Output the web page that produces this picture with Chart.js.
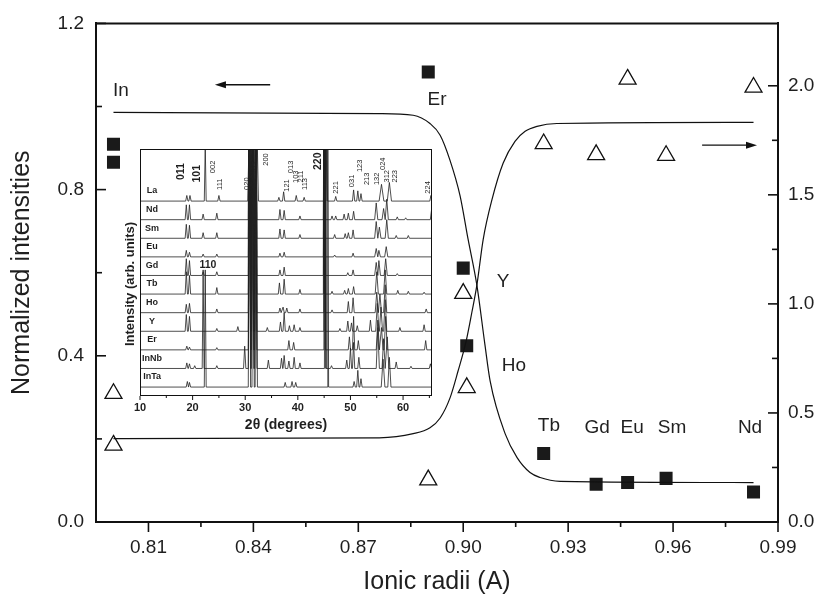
<!DOCTYPE html>
<html>
<head>
<meta charset="utf-8">
<script src="https://cdn.jsdelivr.net/npm/chart.js@4.4.1/dist/chart.umd.min.js"></script>
<style>
  body { margin: 0; background: #fff; }
  #wrap { position: relative; width: 819px; height: 597px; }
  #main { position: absolute; left: 0; top: 0; }
  #inset { position: absolute; left: 112px; top: 140px; }
</style>
</head>
<body>
<div id="wrap">
  <canvas id="main" width="819" height="597"></canvas>
  <canvas id="inset" width="328" height="300"></canvas>
</div>
<script>
// ---- main plot data ----
const ionicRadii = [0.800, 0.800, 0.890, 0.900, 0.901, 0.923, 0.938, 0.947, 0.958, 0.983];
const squareValues = [0.909, 0.866, 1.083, 0.611, 0.424, 0.165, 0.091, 0.095, 0.105, 0.072];
const triangleValues = [0.589, 0.352, 0.193, 1.048, 0.616, 1.734, 1.684, 2.030, 1.680, 1.993];

// guide curves
const fallX = [0.800, 0.876, 0.8857, 0.8905, 0.8934, 0.8962, 0.8991, 0.9014, 0.9039, 0.9062, 0.9077, 0.912, 0.9154, 0.9191, 0.922, 0.9277, 0.983];
const fallY = [0.986, 0.983, 0.979, 0.959, 0.931, 0.871, 0.785, 0.680, 0.570, 0.427, 0.339, 0.212, 0.155, 0.119, 0.107, 0.098, 0.095];
const riseX = [0.800, 0.876, 0.8857, 0.8905, 0.8934, 0.8962, 0.8985, 0.9008, 0.9025, 0.9039, 0.9057, 0.9082, 0.9114, 0.9148, 0.9177, 0.9211, 0.9268, 0.983];
const riseY = [0.382, 0.386, 0.405, 0.432, 0.477, 0.568, 0.691, 0.827, 0.964, 1.086, 1.295, 1.477, 1.645, 1.745, 1.791, 1.814, 1.827, 1.832];

const xTicks = [0.81, 0.84, 0.87, 0.90, 0.93, 0.96, 0.99];
const xMinor = [0.825, 0.855, 0.885, 0.915, 0.945, 0.975];
const leftTicks = [0, 0.4, 0.8, 1.2];
const leftMinor = [0.2, 0.6, 1.0];
const rightTicks = [0, 0.5, 1.0, 1.5, 2.0];
const rightMinor = [0.25, 0.75, 1.25, 1.75];

const ionNames = ['In', 'Er', 'Y', 'Ho', 'Tb', 'Gd', 'Eu', 'Sm', 'Nd'];
const ionLabelX = [0.8021, 0.8925, 0.9114, 0.9145, 0.9245, 0.9383, 0.9483, 0.9597, 0.982];
const ionLabelY = [1.038, 1.017, 0.578, 0.375, 0.2315, 0.227, 0.227, 0.227, 0.227];

// ---- inset XRD data: [2theta, height, half width] ----
const samples = ['InTa', 'InNb', 'Er', 'Y', 'Ho', 'Tb', 'Gd', 'Eu', 'Sm', 'Nd', 'La'];
const peaksInTa = [[19.0,.3],[19.4,.25],[22.4,6.3,.18],[30.8,13],[31.5,13],[32.1,13],[37.6,.25],[38.9,.3],[39.6,.25],[45.7,13,.15],[50.7,.3],[51.4,.9],[52.0,.45],[56.2,1.5,.35],[57.4,1.6,.3]];
const peaksInNb = [[18.9,.3],[19.4,.25],[20.4,.15],[22.0,5.3,.18],[24.6,.15],[29.9,1.2],[30.8,13],[31.4,13],[32.0,13],[34.4,.45],[36.9,.55],[37.4,.7],[38.3,.4],[39.3,.6],[40.4,.3],[45.2,13,.15],[46.4,.15],[49.3,.45],[50.0,1.1],[50.6,1.4],[51.6,.6],[55.2,2.2,.3],[56.3,1.6,.3],[57.0,1.7,.3],[58.7,.35],[61.5,.12],[65.2,.25]];
const peaksEr = [[18.9,.2],[19.4,.15],[24.6,.12],[30.8,13],[31.4,13],[32.0,13],[38.3,.5],[39.2,.4],[45.1,13,.15],[49.8,.7],[50.6,1.8],[51.5,.5],[55.2,1.6,.3],[55.9,1.2,.3],[56.7,1.8,.3],[64.3,.5]];
const peaksY = [[18.8,.9],[19.4,.8],[24.6,.15],[28.6,.25],[30.8,13],[31.4,13],[32.0,13],[34.2,.2],[36.7,.5],[37.4,1.0],[38.4,.3],[39.3,.35],[40.4,.2],[45.1,13,.15],[48.0,.15],[49.5,.55],[50.2,.45],[51.3,.3],[53.8,.6],[55.1,1.5,.3],[55.8,1.3,.3],[56.6,1.7,.3],[59.4,.2],[64.0,.35]];
const peaksHo = [[18.8,.45],[19.4,.5],[24.6,.2],[30.8,13],[31.4,13],[32.0,13],[36.6,.25],[37.2,.3],[37.9,.25],[40.4,.2],[45.1,13,.15],[46.5,.15],[49.6,.6],[50.5,.8],[55.0,1.1,.3],[55.6,1.0,.3],[56.6,1.5,.3],[64.4,.2]];
const peaksTb = [[18.8,1.2],[19.4,1.0],[24.6,.35],[30.8,13],[31.4,13],[32.0,13],[36.5,.6],[37.4,.8],[40.4,.25],[45.0,13,.15],[46.5,.15],[48.9,.2],[49.6,.3],[50.6,.4],[55.0,1.2,.3],[56.6,1.3,.3],[59.0,.2],[61.0,.15],[64.0,.1]];
const peaksGd = [[18.8,.9],[19.4,.8],[22.0,.2],[24.6,.2],[30.8,13],[31.4,13],[32.0,13],[36.6,.3],[37.4,.45],[45.0,13,.15],[49.5,.15],[50.5,.3],[54.9,.7,.3],[55.4,.8,.3],[56.7,.9,.3],[58.9,.1]];
const peaksEu = [[18.8,.35],[19.4,.25],[22.0,.15],[24.6,.15],[30.8,13],[31.4,13],[32.0,13],[36.6,.2],[37.4,.25],[45.0,13,.15],[47.0,.1],[50.5,.2],[54.9,.45,.3],[55.4,.35,.3],[56.8,.55,.3]];
const peaksSm = [[18.8,.75],[19.4,.7],[22.0,.3],[24.6,.3],[30.8,13],[31.4,13],[32.0,13],[36.6,.5],[37.4,.45],[40.4,.2],[45.0,13,.15],[47.0,.2],[49.0,.25],[49.6,.3],[50.5,.45],[54.9,.9,.3],[55.5,.6,.3],[56.9,1.0,.3],[58.7,.15],[61.0,.15]];
const peaksNd = [[18.8,.8],[19.4,.8],[22.0,.3],[24.6,.35],[30.8,13],[31.4,13],[32.0,13],[36.6,.55],[37.4,.5],[40.4,.2],[45.0,13,.15],[46.5,.2],[47.2,.2],[48.8,.3],[49.6,.35],[50.6,.45],[54.9,.9,.3],[56.3,.6,.3],[56.9,1.1,.3],[58.9,.15],[60.5,.1],[65.4,.5]];
const peaksLa = [[18.9,.3],[19.5,.3],[22.4,3,.18],[25.0,.3],[30.7,3],[31.5,3],[32.3,3],[36.4,.2],[37.3,.5],[39.7,.3],[41.2,.2],[45.5,3,.15],[47.2,.25],[50.6,.6],[51.4,.55],[52.0,.4],[55.9,.9,.45],[57.4,1.0,.4],[65.3,.3]];
const allPeaks = [peaksInTa, peaksInNb, peaksEr, peaksY, peaksHo, peaksTb, peaksGd, peaksEu, peaksSm, peaksNd, peaksLa];

const insetTicks = [10, 20, 30, 40, 50, 60];
const insetMinor = [15, 25, 35, 45, 55, 65];

// hkl labels of the La pattern: text, 2theta, bottom of text (in offset units)
const hklText = ['011', '101', '002', '111', '020', '112', '200', '121', '013', '103', '211', '113', '220', '221', '031', '123', '213', '132', '024', '312', '223', '224'];
const hklX = [17.9, 20.8, 23.9, 25.2, 30.3, 31.7, 34.0, 37.9, 38.7, 39.7, 40.6, 41.4, 43.9, 47.3, 50.3, 51.8, 53.1, 55.0, 56.2, 57.0, 58.5, 64.8];
const hklY = [11.13, 11.0, 11.5, 10.6, 10.6, 11.56, 11.9, 10.5, 11.5, 10.97, 11.0, 10.6, 11.67, 10.4, 10.75, 11.56, 10.86, 10.86, 11.67, 11.0, 11.0, 10.4];
const hklBold = ['011', '101', '220'];

const textColor = '#1f1f1f';
const mainFont = '"Liberation Sans", Arial, sans-serif';

// spikes for a pattern sitting on a given offset
const makeTrace = (peaks, offset) => {
  const pts = [{ x: 10, y: offset }];
  peaks.forEach(([pos, h, w = 0.22]) => {
    pts.push({ x: pos - w, y: offset }, { x: pos, y: offset + h }, { x: pos + w, y: offset });
  });
  pts.push({ x: 65.5, y: offset });
  return pts;
};

const toPoints = (xs, ys) => xs.map((v, i) => ({ x: v, y: ys[i] }));

// draws ticks, top border, labels and arrows on the main plot
const mainDecor = {
  id: 'mainDecor',
  afterDraw(chart) {
    const { ctx, chartArea: a, scales } = chart;
    const sx = scales.x, sy = scales.y, sr = scales.y1;
    ctx.save();
    ctx.strokeStyle = '#111';
    ctx.lineWidth = 2;
    ctx.beginPath();
    ctx.moveTo(a.left - 1, a.top);
    ctx.lineTo(a.right + 1, a.top);
    ctx.stroke();

    ctx.lineWidth = 1.6;
    const seg = (x1, y1, x2, y2) => {
      ctx.beginPath(); ctx.moveTo(x1, y1); ctx.lineTo(x2, y2); ctx.stroke();
    };
    xTicks.forEach(v => { const p = sx.getPixelForValue(v); seg(p, a.bottom, p, a.bottom + 10); });
    xMinor.forEach(v => { const p = sx.getPixelForValue(v); seg(p, a.bottom, p, a.bottom + 5); });
    leftTicks.forEach(v => { const p = sy.getPixelForValue(v); seg(a.left, p, a.left + 10, p); });
    leftMinor.forEach(v => { const p = sy.getPixelForValue(v); seg(a.left, p, a.left + 6, p); });
    rightTicks.forEach(v => { const p = sr.getPixelForValue(v); seg(a.right, p, a.right - 10, p); });
    rightMinor.forEach(v => { const p = sr.getPixelForValue(v); seg(a.right, p, a.right - 6, p); });

    // ion names
    ctx.fillStyle = textColor;
    ctx.font = '19px ' + mainFont;
    ctx.textAlign = 'center';
    ctx.textBaseline = 'middle';
    ionNames.forEach((t, i) => {
      ctx.fillText(t, sx.getPixelForValue(ionLabelX[i]), sy.getPixelForValue(ionLabelY[i]));
    });

    // arrows pointing to each axis
    const arrow = (x1, x2, yv) => {
      const p1 = sx.getPixelForValue(x1), p2 = sx.getPixelForValue(x2), py = sy.getPixelForValue(yv);
      const dir = Math.sign(p2 - p1);
      ctx.lineWidth = 1.4;
      seg(p1, py, p2 - dir * 6, py);
      ctx.beginPath();
      ctx.moveTo(p2, py);
      ctx.lineTo(p2 - dir * 11, py - 3.5);
      ctx.lineTo(p2 - dir * 11, py + 3.5);
      ctx.closePath();
      ctx.fillStyle = '#111';
      ctx.fill();
    };
    arrow(0.8448, 0.8290, 1.0525);
    arrow(0.9683, 0.9840, 0.907);
    ctx.restore();
  }
};

new Chart(document.getElementById('main'), {
  type: 'scatter',
  data: {
    datasets: [
      {
        label: 'fall', data: toPoints(fallX, fallY), yAxisID: 'y', showLine: true,
        borderColor: '#111', borderWidth: 1.2, pointRadius: 0, cubicInterpolationMode: 'monotone'
      },
      {
        label: 'rise', data: toPoints(riseX, riseY), yAxisID: 'y1', showLine: true,
        borderColor: '#111', borderWidth: 1.2, pointRadius: 0, cubicInterpolationMode: 'monotone'
      },
      {
        label: 'squares', data: toPoints(ionicRadii, squareValues), yAxisID: 'y',
        pointStyle: 'rect', pointRadius: 9.2, backgroundColor: '#1a1a1a', borderColor: '#1a1a1a', borderWidth: 0
      },
      {
        label: 'triangles', data: toPoints(ionicRadii, triangleValues), yAxisID: 'y1',
        pointStyle: 'triangle', pointRadius: 9.8, backgroundColor: 'rgba(0,0,0,0)', borderColor: '#111', borderWidth: 1.3
      }
    ]
  },
  options: {
    responsive: false,
    animation: false,
    layout: { padding: { top: 19, left: 0, right: 0, bottom: 0 } },
    plugins: { legend: { display: false }, tooltip: { enabled: false } },
    scales: {
      x: {
        type: 'linear', min: 0.795, max: 0.99,
        afterBuildTicks: s => { s.ticks = xTicks.map(v => ({ value: v })); },
        afterFit: s => { s.height = 75; },
        grid: { display: false, drawTicks: false },
        border: { display: true, color: '#111', width: 2 },
        ticks: { color: textColor, font: { family: mainFont, size: 19 }, padding: 14, callback: v => v.toFixed(2) },
        title: { display: true, text: 'Ionic radii (A)', color: textColor, font: { family: mainFont, size: 25 }, padding: { top: 0, bottom: 0 } }
      },
      y: {
        position: 'left', min: 0, max: 1.2,
        afterBuildTicks: s => { s.ticks = leftTicks.map(v => ({ value: v })); },
        afterFit: s => { s.width = 96; },
        grid: { display: false, drawTicks: false },
        border: { display: true, color: '#111', width: 2 },
        ticks: { color: textColor, font: { family: mainFont, size: 19 }, padding: 12, callback: v => v.toFixed(1) },
        title: { display: true, text: 'Normalized intensities', color: textColor, font: { family: mainFont, size: 25 }, padding: { top: 7, bottom: 0 } }
      },
      y1: {
        position: 'right', min: 0, max: 2.286,
        afterBuildTicks: s => { s.ticks = rightTicks.map(v => ({ value: v })); },
        afterFit: s => { s.width = 41; },
        grid: { display: false, drawTicks: false },
        border: { display: true, color: '#111', width: 2 },
        ticks: { color: textColor, font: { family: mainFont, size: 19 }, padding: 10, callback: v => v.toFixed(1) }
      }
    }
  },
  plugins: [mainDecor]
});

// ---- inset ----
const insetDecor = {
  id: 'insetDecor',
  beforeDatasetsDraw(chart) {
    const { ctx, chartArea: a } = chart;
    ctx.save();
    ctx.fillStyle = '#fff';
    ctx.fillRect(a.left, a.top, a.right - a.left, a.bottom - a.top);
    ctx.restore();
  },
  afterDraw(chart) {
    const { ctx, chartArea: a, scales: { x, y } } = chart;
    ctx.save();
    ctx.strokeStyle = '#111';
    ctx.lineWidth = 1;
    ctx.strokeRect(a.left + 0.5, a.top + 0.5, a.right - a.left - 1, a.bottom - a.top - 1);
    const seg = (x1, y1, x2, y2) => { ctx.beginPath(); ctx.moveTo(x1, y1); ctx.lineTo(x2, y2); ctx.stroke(); };
    insetTicks.forEach(v => { const p = x.getPixelForValue(v); seg(p, a.bottom, p, a.bottom + 4); });
    insetMinor.forEach(v => { const p = x.getPixelForValue(v); seg(p, a.bottom, p, a.bottom + 2); });

    ctx.fillStyle = textColor;
    ctx.textBaseline = 'middle';
    // sample names
    ctx.font = 'bold 9px ' + mainFont;
    ctx.textAlign = 'center';
    samples.forEach((s, i) => {
      ctx.fillText(s, x.getPixelForValue(12.3), y.getPixelForValue(i + 0.55));
    });
    // 110 reflection
    ctx.font = 'bold 10.5px ' + mainFont;
    ctx.fillText('110', x.getPixelForValue(22.9), y.getPixelForValue(6.56));
    // hkl of La pattern, rotated
    ctx.textAlign = 'left';
    hklText.forEach((t, i) => {
      ctx.save();
      ctx.translate(x.getPixelForValue(hklX[i]), y.getPixelForValue(hklY[i]));
      ctx.rotate(-Math.PI / 2);
      ctx.font = hklBold.includes(t) ? 'bold 10.5px ' + mainFont : '7.5px ' + mainFont;
      ctx.fillText(t, 0, 0);
      ctx.restore();
    });
    // y title
    ctx.save();
    ctx.translate(18, 144);
    ctx.rotate(-Math.PI / 2);
    ctx.textAlign = 'center';
    ctx.font = 'bold 13px ' + mainFont;
    ctx.fillText('Intensity (arb. units)', 0, 0);
    ctx.restore();
    ctx.restore();
  }
};

new Chart(document.getElementById('inset'), {
  type: 'scatter',
  data: {
    datasets: allPeaks.map((p, i) => ({
      label: samples[i], data: makeTrace(p, i), showLine: true,
      borderColor: '#222', borderWidth: 0.8, pointRadius: 0
    }))
  },
  options: {
    responsive: false,
    animation: false,
    layout: { padding: { top: 9, left: 28, right: 8, bottom: 0 } },
    plugins: { legend: { display: false }, tooltip: { enabled: false } },
    scales: {
      x: {
        type: 'linear', min: 10, max: 65.5,
        afterBuildTicks: s => { s.ticks = insetTicks.map(v => ({ value: v })); },
        afterFit: s => { s.height = 44; },
        grid: { display: false, drawTicks: false },
        border: { display: false },
        ticks: { color: textColor, font: { family: mainFont, size: 11, weight: 'bold' }, padding: 5 },
        title: { display: true, text: '2θ (degrees)', color: textColor, font: { family: mainFont, size: 14, weight: 'bold' }, padding: { top: 0, bottom: 6 } }
      },
      y: { display: false, min: -0.48, max: 12.8 }
    }
  },
  plugins: [insetDecor]
});
</script>
</body>
</html>
